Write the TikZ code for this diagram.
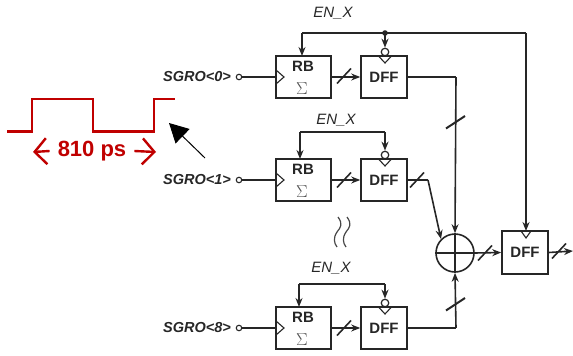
\documentclass[tikz,border=0pt]{standalone}
\usepackage{fontspec}
\setmainfont{Liberation Sans}
\usetikzlibrary{arrows.meta}
\definecolor{pulsered}{HTML}{C00000}
\definecolor{wire}{HTML}{262626}
\tikzset{
	lab/.style={font=\fontsize{15}{18}\selectfont, text=wire, inner sep=0pt},
	boxlab/.style={lab, font=\fontsize{15}{18}\selectfont\bfseries},
	block/.style={draw=wire, line width=1.6pt, inner sep=0pt},
	term/.style={draw=wire, circle, line width=1.1pt, inner sep=0pt, minimum size=5.5pt},
	bubble/.style={draw=wire, circle, line width=1.2pt, inner sep=0pt, minimum size=7.5pt},
	wir/.style={draw=wire, line width=1.6pt},
	arr/.style={wir, -{Stealth[length=9pt, width=7pt]}},
	red/.style={draw=pulsered, line width=2.4pt}
}
\begin{document}
\begin{tikzpicture}[x=1pt, y=-1pt]
			\useasboundingbox (0,0) rectangle (573,356);
			% one row per channel
			\def\rows {0/77/33/302/333/13, 1/180/132/300/336/120, 8/328/284/299/331/268}
			\foreach \row/\y/\top/\fx/\lx/\ly in \rows
			{	\node[block, minimum width=55pt, minimum height=42pt] (rb\row)  at (303.5,\y) {};
				\node[block, minimum width=46pt, minimum height=42pt] (dff\row) at (384,\y) {};
				\node[boxlab] (rbl\row) at (303,\y-11) {RB};
				\node[lab, font=\fontsize{19}{20}\selectfont, text=wire!80] (sum\row) at (302,\y+12) {$\Sigma$};
				\node[boxlab] (dffl\row) at (384,\y) {DFF};
				\node[term] (in\row) at (239,\y) {};
				\node[lab, anchor=east, font=\fontsize{14.5}{18}\selectfont\bfseries\itshape] (sgro\row) at (231,\y) {SGRO<\row>};
				\node[bubble] (bub\row) at (385,\y-25) {};
				\node[lab, font=\fontsize{15}{18}\selectfont\itshape] (en\row) at (\lx,\ly) {EN\_X};
				\coordinate (fl\row) at (\fx,\top);
				\coordinate (fr\row) at (385,\top);
				\coordinate (ft\row) at (\fx,\y-21);
				\draw[wir] (in\row) -- (rb\row.west);
				\draw[arr] (rb\row.east) -- (dff\row.west);
				\draw[arr] (fl\row) -- (ft\row);
				\draw[wir] (fl\row) -- (fr\row);
				\draw[arr] (fr\row) -- (bub\row.north);
				% clock marks
				\draw[wir, line width=1.1pt] (276,\y-7) -- (284,\y) -- (276,\y+7);
				\draw[wir, line width=1.1pt] (378.5,\y-21) -- (385,\y-14) -- (391.5,\y-21);
			}
			%
			\node[draw=wire, circle, line width=1.6pt, inner sep=0pt, minimum size=38pt] (add) at (455,253) {};
			\node[block, minimum width=46pt, minimum height=43pt] (dffo) at (525,252.5) {};
			\node[boxlab] (dffol) at (525,252) {DFF};
			\coordinate (out) at (573,251);
			\coordinate (fend) at (526,33);
			\coordinate (dffi) at (526,231);
			\coordinate (b1) at (428,180);
			\coordinate (b0) at (456,77);
			\coordinate (b8) at (456,328);
			\fill[wire] (fr0) circle (2.8pt);
			%
			\draw[wir, line width=2.6pt] (fl0) -- (fend);
			\draw[arr] (fend) -- (dffi);
			\draw[wir, line width=1.1pt] (521,231) -- (526,238) -- (531,231);
			\draw[wir] (dff0.east) -- (b0);
			\draw[arr] (b0) -- (add.north);
			\draw[wir] (dff1.east) -- (b1);
			\draw[arr] (b1) -- (add.north west);
			\draw[wir] (dff8.east) -- (b8);
			\draw[arr] (b8) -- (add.south);
			\draw[arr] (add.east) -- (dffo.west);
			\draw[arr] (dffo.east) -- (out);
			% adder cross
			\draw[wir, line width=1.3pt] (add.west) -- (add.east);
			\draw[wir, line width=1.3pt] (add.north) -- (add.south);
			% bus slashes
			\foreach \x/\y in {344/76, 344/180, 417/180, 344/328, 485/253, 559/251}
			{	\draw[wir] (\x-7,\y+7.5) -- (\x+7,\y-7.5);
			}
			\foreach \x/\y in {456/122, 456/304}
			{	\draw[wir, line width=2pt] (\x-10,\y+6.5) -- (\x+9,\y-6);
			}
			% dots between the rows
			\foreach \x in {0,9}
			{	\draw[draw=wire!85, line width=1.2pt] (338+\x,217) .. controls (343+\x,224) and (341+\x,227) .. (337+\x,232) .. controls (333+\x,238) and (334+\x,243) .. (337+\x,247);
			}
			%
			\draw[red] (7,131.5) -- (32,131.5) -- (32,99) -- (93,99) -- (93,131.5) -- (154,131.5) -- (154,99) -- (175,99);
			\node[lab, text=pulsered, font=\fontsize{22}{24}\selectfont\bfseries] (per) at (92,151) {810 ps};
			\coordinate (pl) at (33,152);
			\coordinate (pr) at (156,152);
			\draw[red, -{Straight Barb[length=12pt, width=26pt]}] (per.west) ++(-8,0) -- (pl);
			\draw[red, -{Straight Barb[length=12pt, width=26pt]}] (per.east) ++(8,0) -- (pr);
			%
			\coordinate (ptail) at (205,158);
			\coordinate (ptip) at (169,123);
			\draw[draw=black, line width=1pt, -{Triangle[length=19pt, width=20pt]}] (ptail) -- (ptip);
		\end{tikzpicture}
\end{document}
